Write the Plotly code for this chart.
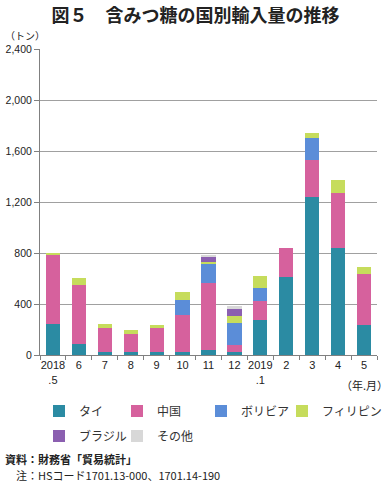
import plotly.graph_objects as go

categories = ["2018.5", "6", "7", "8", "9", "10", "11", "12", "2019.1", "2", "3", "4", "5"]
tick_labels = ["2018<br>.5", "6", "7", "8", "9", "10", "11", "12", "2019<br>.1", "2", "3", "4", "5"]

thai = [245, 85, 20, 20, 20, 20, 40, 20, 272, 615, 1242, 842, 238]
china = [545, 465, 195, 142, 195, 296, 522, 58, 152, 227, 287, 431, 400]
bolivia = [0, 0, 0, 0, 0, 115, 152, 175, 104, 0, 173, 0, 0]
philippines = [10, 55, 27, 34, 22, 63, 13, 53, 92, 0, 42, 100, 55]
brazil = [0, 0, 0, 0, 0, 0, 38, 57, 0, 0, 0, 0, 0]
other = [0, 0, 0, 0, 0, 0, 18, 21, 0, 0, 0, 0, 0]

series = [
    ("タイ", thai, "#2B8BA3"),
    ("中国", china, "#D6619D"),
    ("ボリビア", bolivia, "#5B8DD8"),
    ("フィリピン", philippines, "#C6DC5C"),
    ("ブラジル", brazil, "#8B5FB0"),
    ("その他", other, "#D8D8D8"),
]
# legend slot positions (pixels of the swatch-row layout)
legend_pos = [(39, 411), (117, 411), (201, 411), (282, 411), (39, 436), (117, 436)]

FONT = "Noto Sans CJK JP"
PLOT_L, PLOT_R, PLOT_T, PLOT_B = 40, 377, 49, 355

fig = go.Figure()
legend_layouts = {}
for i, ((name, vals, color), (px, py)) in enumerate(zip(series, legend_pos)):
    lg = "legend" if i == 0 else f"legend{i + 1}"
    fig.add_trace(go.Bar(x=categories, y=vals, name=name, legend=lg,
                         marker=dict(color=color, line=dict(width=0))))
    legend_layouts[lg] = dict(orientation="h", xanchor="left", yanchor="middle",
                              x=(px - PLOT_L) / (PLOT_R - PLOT_L),
                              y=(PLOT_B - py) / (PLOT_B - PLOT_T),
                              font=dict(size=12, family=FONT, color="#333"),
                              bgcolor="rgba(0,0,0,0)")

fig.update_layout(
    barmode="stack",
    bargap=0.45,
    width=391, height=482,
    margin=dict(l=PLOT_L, r=391 - PLOT_R, t=PLOT_T, b=482 - PLOT_B, autoexpand=False),
    paper_bgcolor="white", plot_bgcolor="white",
    font=dict(family=FONT, size=11, color="#222"),
    title=dict(text="<b>図５　含みつ糖の国別輸入量の推移</b>", x=0.5, xanchor="center",
               y=0.968, yanchor="middle", font=dict(size=18, family=FONT, color="#222")),
    showlegend=True,
    **legend_layouts,
)
fig.update_yaxes(range=[0, 2400], dtick=400, tickformat=",d", automargin=False,
                 showgrid=True, gridcolor="#A0A0A0", gridwidth=1,
                 showline=True, linecolor="#808080", linewidth=1,
                 ticks="outside", ticklen=5, tickcolor="#808080",
                 tickfont=dict(family="Liberation Sans", size=10.5, color="#222"), zeroline=False)
fig.update_xaxes(tickmode="array", tickvals=categories, ticktext=tick_labels, tickangle=0,
                 automargin=False,
                 showline=True, linecolor="#808080", linewidth=1,
                 ticks="outside", ticklen=4, tickcolor="#808080", tickson="boundaries",
                 tickfont=dict(family="Liberation Sans", size=11, color="#222"))

fig.add_annotation(text="（トン）", xref="paper", yref="paper", x=-0.11, y=1.0, yshift=14,
                   xanchor="left", yanchor="middle", showarrow=False, font=dict(size=10, family=FONT))
fig.add_annotation(text="（年.月）", xref="paper", yref="paper", x=1.04, y=0, yshift=-30,
                   xanchor="right", yanchor="middle", showarrow=False, font=dict(size=11, family=FONT))
fig.add_annotation(text="<b>資料：財務省「貿易統計」</b>", xref="paper", yref="paper",
                   x=-0.11, y=0, yshift=-104, xanchor="left", yanchor="middle", showarrow=False,
                   font=dict(size=11, family=FONT))
fig.add_annotation(text="　注：HSコード1701.13-000、1701.14-190", xref="paper", yref="paper",
                   x=-0.11, y=0, yshift=-120, xanchor="left", yanchor="middle", showarrow=False,
                   font=dict(size=11, family=FONT))

fig.write_html("out.html", config={"displayModeBar": False},
               post_script="document.body.style.margin='0';document.body.style.overflow='hidden';")
